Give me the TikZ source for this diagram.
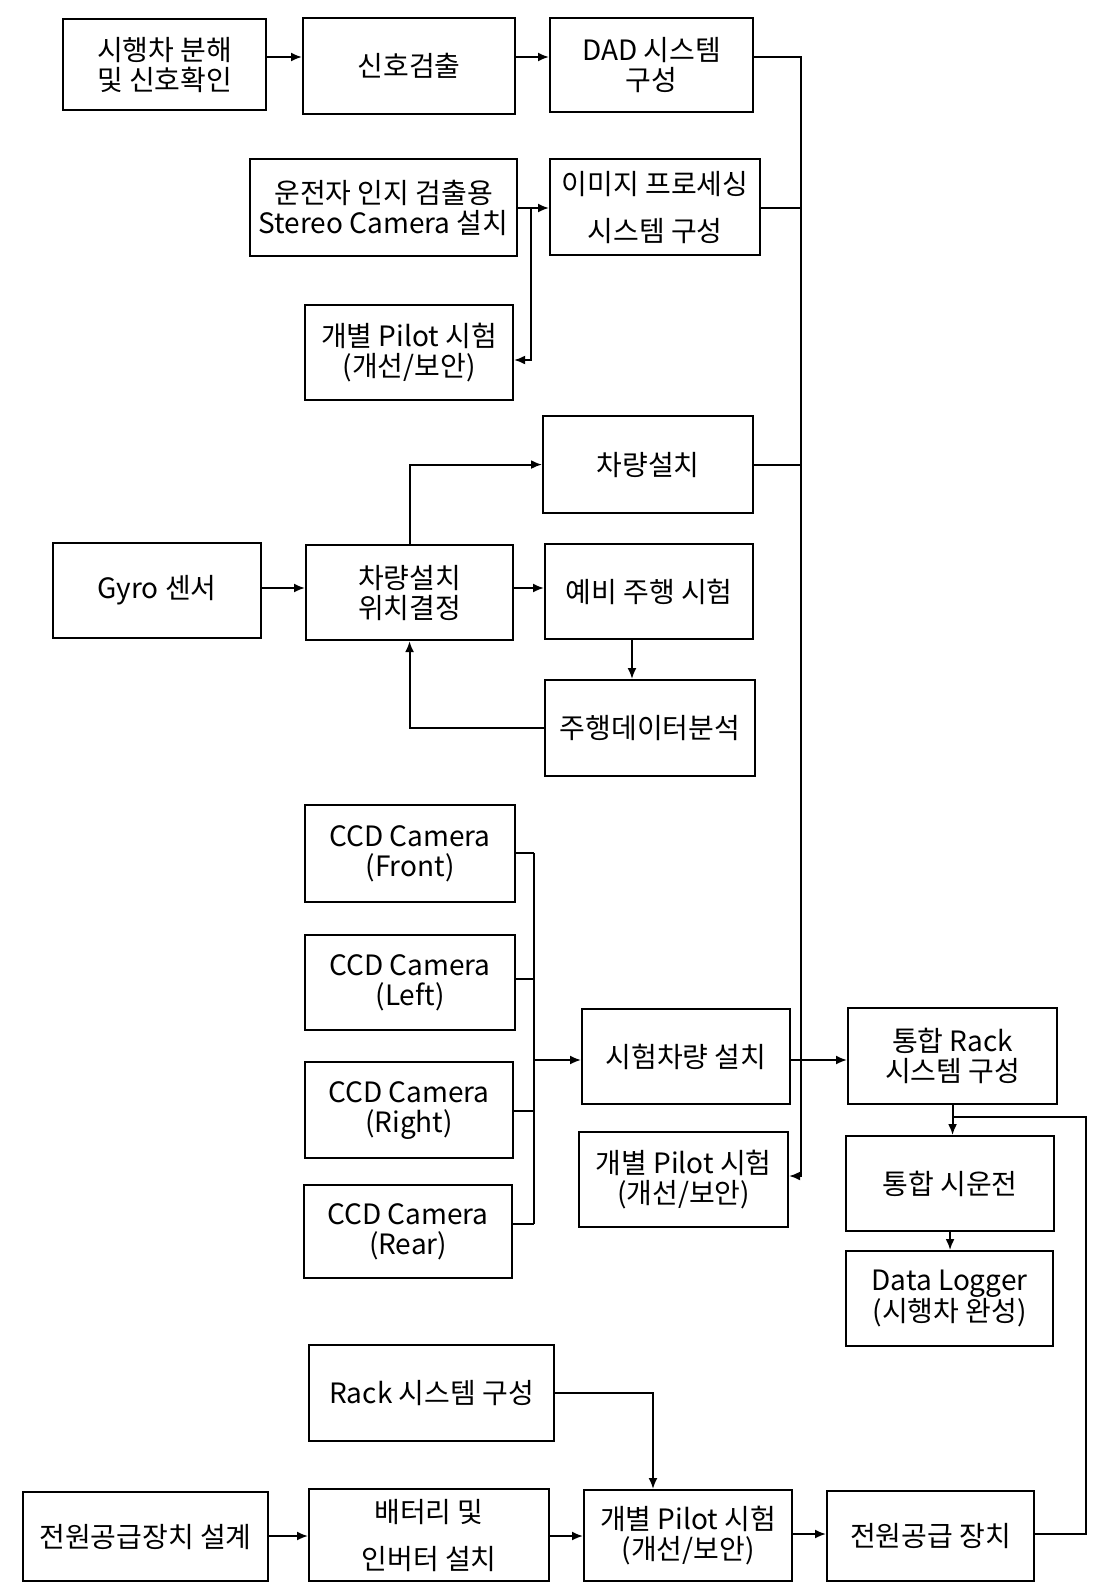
\documentclass[tikz,border=0pt]{standalone}
\usepackage{fontspec}
\setmainfont{Noto Sans CJK KR}
\usetikzlibrary{arrows.meta}
\begin{document}
\begin{tikzpicture}[x=1pt,y=-1pt,
  box/.style={draw, line width=2.1pt, anchor=north west, inner sep=0pt, align=center, font=\fontsize{28}{30}\selectfont},
  con/.style={line width=1.9pt},
  arr/.style={con, -{Latex[length=11pt,width=9pt]}}]
\useasboundingbox (0,0) rectangle (1094,1583);
% level coordinates
\foreach \v in {57,208,360,588,728,853,979,1060,1111,1117,1176,1224,1392,1534,1536}{\coordinate (y\v) at (0,\v);}
\coordinate (bus) at (801,0);
\coordinate (br) at (531,0);
\coordinate (cb) at (534,0);
\coordinate (x632) at (632,0);
\coordinate (x653) at (653,0);
\coordinate (x1086) at (1086,0);
% boxes
\node[box,minimum width=203pt,minimum height=91pt] (A) at (62,18) {시행차 분해\\및 신호확인};
\node[box,minimum width=212pt,minimum height=96pt] (B) at (302,17) {신호검출};
\node[box,minimum width=203pt,minimum height=94pt] (DAD) at (549,17) {DAD 시스템\\구성};
\node[box,minimum width=267pt,minimum height=97pt] (stereo) at (249,158) {운전자 인지 검출용\\Stereo Camera 설치};
\node[box,minimum width=210pt,minimum height=96pt] (imgp) at (549,158) {이미지 프로세싱\\[17pt]시스템 구성};
\node[box,minimum width=208pt,minimum height=95pt] (pilotA) at (304,304) {개별 Pilot 시험\\(개선/보안)};
\node[box,minimum width=210pt,minimum height=97pt] (inst) at (542,415) {차량설치};
\node[box,minimum width=208pt,minimum height=95pt] (gyro) at (52,542) {Gyro 센서};
\node[box,minimum width=207pt,minimum height=95pt] (pos) at (305,544) {차량설치\\위치결정};
\node[box,minimum width=208pt,minimum height=95pt] (pre) at (544,543) {예비 주행 시험};
\node[box,minimum width=210pt,minimum height=96pt] (ana) at (544,679) {주행데이터분석};
\node[box,minimum width=210pt,minimum height=97pt] (ccdF) at (304,804) {CCD Camera\\(Front)};
\node[box,minimum width=210pt,minimum height=95pt] (ccdL) at (304,934) {CCD Camera\\(Left)};
\node[box,minimum width=208pt,minimum height=96pt] (ccdR) at (304,1061) {CCD Camera\\(Right)};
\node[box,minimum width=208pt,minimum height=93pt] (ccdB) at (303,1184) {CCD Camera\\(Rear)};
\node[box,minimum width=208pt,minimum height=95pt] (test) at (581,1008) {시험차량 설치};
\node[box,minimum width=209pt,minimum height=95pt] (pilotB) at (578,1131) {개별 Pilot 시험\\(개선/보안)};
\node[box,minimum width=209pt,minimum height=96pt] (rack) at (847,1007) {통합 Rack\\시스템 구성};
\node[box,minimum width=208pt,minimum height=95pt] (trial) at (845,1135) {통합 시운전};
\node[box,minimum width=207pt,minimum height=95pt] (logger) at (845,1250) {Data Logger\\(시행차 완성)};
\node[box,minimum width=245pt,minimum height=96pt] (rackB) at (308,1344) {Rack 시스템 구성};
\node[box,minimum width=245pt,minimum height=89pt] (psd) at (22,1491) {전원공급장치 설계};
\node[box,minimum width=240pt,minimum height=92pt] (batt) at (308,1488) {배터리 및\\[17pt]인버터 설치};
\node[box,minimum width=208pt,minimum height=91pt] (pilotC) at (583,1489) {개별 Pilot 시험\\(개선/보안)};
\node[box,minimum width=207pt,minimum height=90pt] (ps) at (826,1490) {전원공급 장치};
% connectors
\draw[arr] (A.east|-y57) -- (B.west|-y57);
\draw[arr] (B.east|-y57) -- (DAD.west|-y57);
\draw[arr] (DAD.east|-y57) -- (bus|-y57) -- (bus|-y1176) -- (pilotB.east|-y1176);
\draw[con] (imgp.east|-y208) -- (bus|-y208);
\draw[con] (inst.east) -- (bus|-inst.east);
\draw[arr] (stereo.east|-y208) -- (imgp.west|-y208);
\draw[arr] (br|-y208) -- (br|-y360) -- (pilotA.east|-y360);
\draw[arr] (gyro.east|-y588) -- (pos.west|-y588);
\draw[arr] (pos.north) |- (inst.west);
\draw[arr] (pos.east|-y588) -- (pre.west|-y588);
\draw[arr] (x632|-pre.south) -- (x632|-ana.north);
\draw[arr] (ana.west) -| (pos.south);
\draw[con] (ccdF.east|-y853) -- (cb|-y853);
\draw[con] (ccdL.east|-y979) -- (cb|-y979);
\draw[con] (ccdR.east|-y1111) -- (cb|-y1111);
\draw[con] (ccdB.east|-y1224) -- (cb|-y1224);
\draw[con] (cb|-y853) -- (cb|-y1224);
\draw[arr] (cb|-y1060) -- (test.west|-y1060);
\draw[arr] (test.east|-y1060) -- (rack.west|-y1060);
\draw[arr] (rack.south) -- (rack.south|-trial.north);
\draw[arr] (trial.south) -- (trial.south|-logger.north);
\draw[arr] (rackB.east) -| (x653|-pilotC.north);
\draw[arr] (psd.east|-y1536) -- (batt.west|-y1536);
\draw[arr] (batt.east|-y1536) -- (pilotC.west|-y1536);
\draw[arr] (pilotC.east|-y1534) -- (ps.west|-y1534);
\draw[con] (ps.east|-y1534) -- (x1086|-y1534) -- (x1086|-y1117) -- (rack.south|-y1117);
\end{tikzpicture}
\end{document}
